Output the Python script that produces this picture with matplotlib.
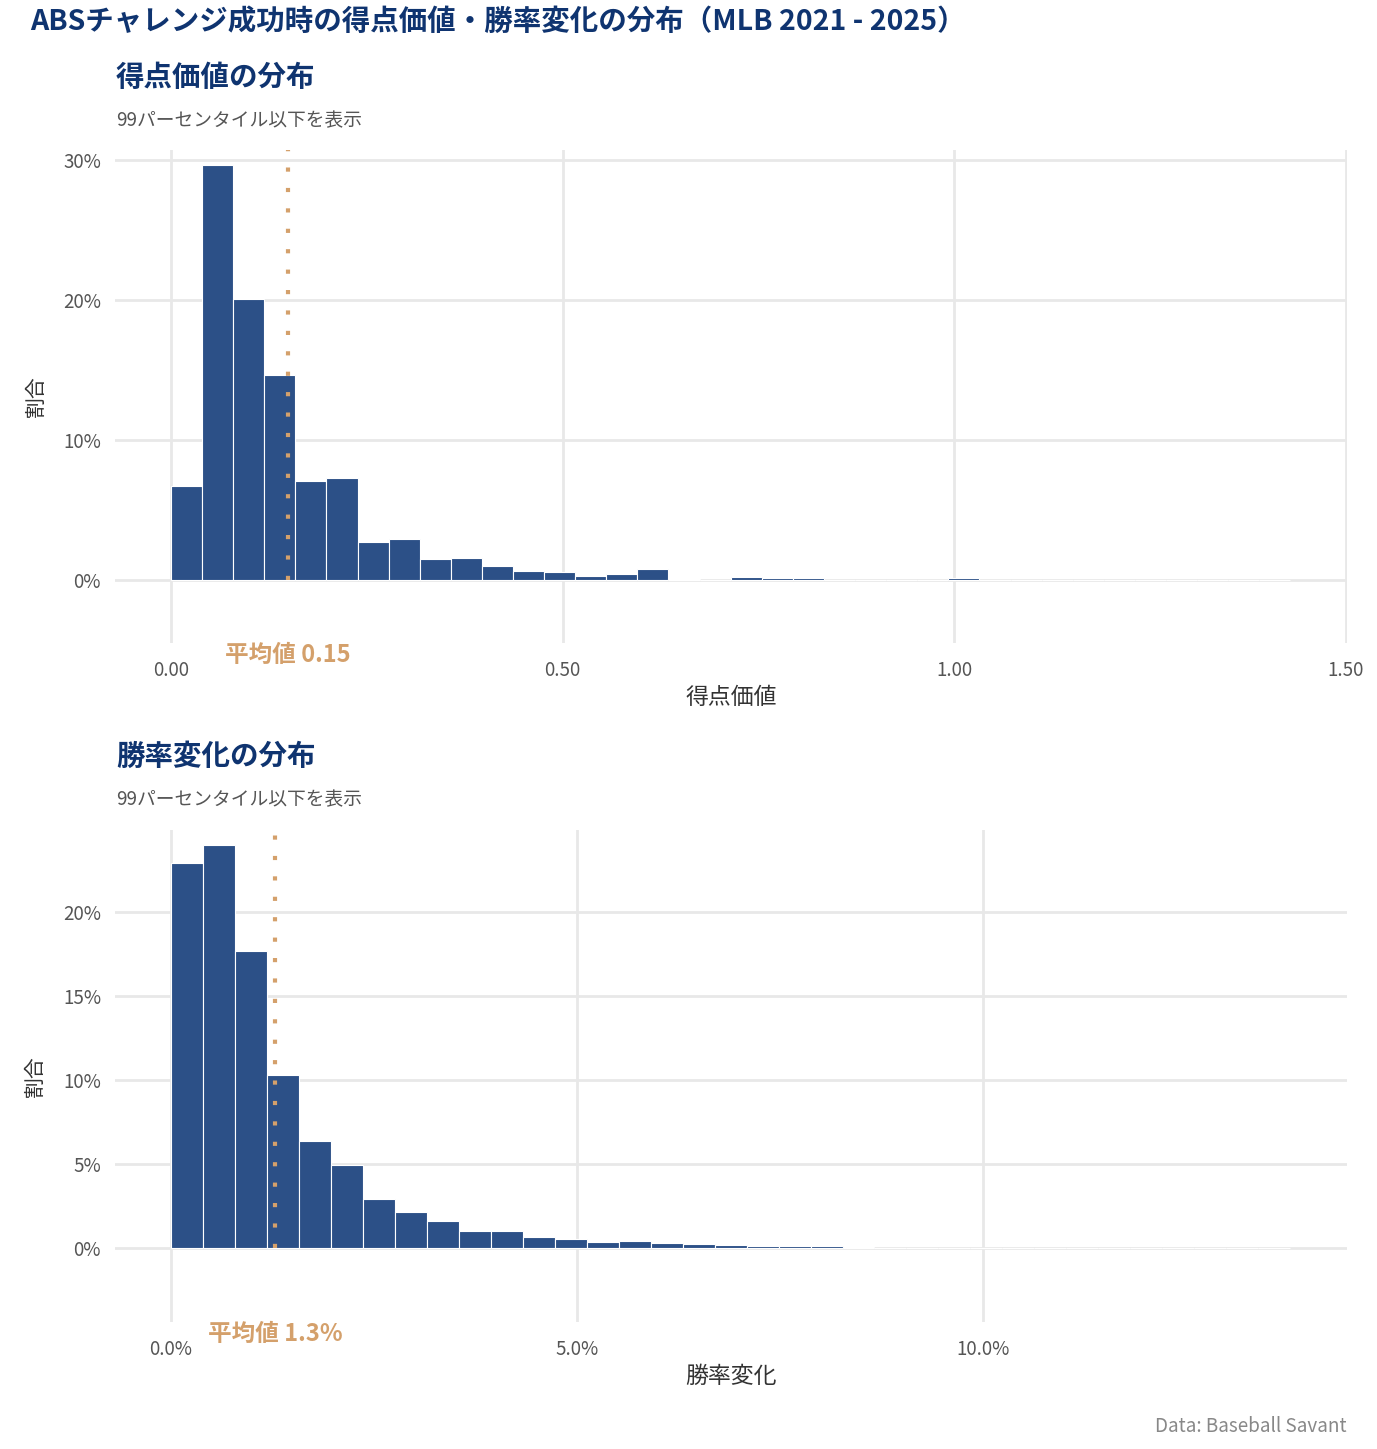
import matplotlib
matplotlib.use("Agg")
import matplotlib.pyplot as plt
import numpy as np
from matplotlib.ticker import FuncFormatter

plt.rcParams['font.family'] = ['Noto Sans CJK JP', 'DejaVu Sans']

# run value histogram (share of challenges, %)
score_bin_start = 0.0
score_bin_width = 0.0397
score_pct = [6.69, 29.64, 20.07, 14.64, 7.05, 7.26, 2.71, 2.93, 1.48, 1.57,
             0.98, 0.64, 0.60, 0.27, 0.42, 0.78, 0.07, 0.02, 0.24, 0.14,
             0.14, 0.03, 0.03, 0.03, 0.01, 0.17, 0.03, 0.03, 0.01, 0.02,
             0.02, 0.02, 0.02, 0.02, 0.02, 0.01]
score_mean = 0.149
score_xticks = [0.0, 0.5, 1.0, 1.5]
score_yticks = [0, 10, 20, 30]

# win prob change histogram (x in %, share %)
wp_bin_start = 0.0
wp_bin_width = 0.394
wp_pct = [22.92, 23.99, 17.68, 10.30, 6.37, 4.96, 2.92, 2.14, 1.63, 1.03,
          1.01, 0.65, 0.52, 0.37, 0.40, 0.28, 0.22, 0.16, 0.14, 0.14,
          0.10, 0.05, 0.03, 0.03, 0.03, 0.01, 0.01, 0.02, 0.015, 0.015,
          0.015, 0.015, 0.015, 0.015, 0.015]
wp_mean = 1.28
wp_xticks = [0.0, 5.0, 10.0]
wp_yticks = [0, 5, 10, 15, 20]

NAVY = '#0f3470'
BAR = '#2c5087'
GOLD = '#d4a06b'
GRID = '#e8e8e8'

W, H = 1377, 1449
fig = plt.figure(figsize=(W / 100, H / 100), dpi=100)


def fx(px):
    return px / W


def fy(px):
    return 1 - px / H


def draw_hist(ax, start, width, heights, mean, xlim, ylim, xticks, yticks,
              xfmt, yfmt, xlabel, mean_label):
    lefts = start + width * np.arange(len(heights))
    ax.bar(lefts, heights, width=width, align='edge', color=BAR,
           edgecolor='white', linewidth=0.8, zorder=2)
    ax.plot([mean, mean], [0, ylim[1]], color=GOLD, lw=3,
            linestyle=(0, (1, 3.9)), dash_capstyle='butt', zorder=3)
    ax.set_xlim(*xlim)
    ax.set_ylim(*ylim)
    ax.set_xticks(xticks)
    ax.set_yticks(yticks)
    ax.xaxis.set_major_formatter(FuncFormatter(xfmt))
    ax.yaxis.set_major_formatter(FuncFormatter(yfmt))
    ax.grid(True, color=GRID, lw=2.0, zorder=0)
    ax.set_axisbelow(True)
    for s in ax.spines.values():
        s.set_visible(False)
    ax.tick_params(length=0, labelsize=13.5, labelcolor='#555555', pad=12)
    ax.tick_params(axis='y', pad=10)
    ax.set_xlabel(xlabel, fontsize=16.5, color='#333333', labelpad=4)
    ax.set_ylabel('割合', fontsize=15, color='#333333', labelpad=12)
    ax.text(mean, ylim[0] - (ylim[1] - ylim[0]) * 0.025, mean_label,
            ha='center', va='center', fontsize=17, fontweight='bold',
            color=GOLD, clip_on=False)


# top panel
ax1 = fig.add_axes([fx(115), fy(643), fx(1347 - 115), (643 - 150) / H])
draw_hist(ax1, score_bin_start, score_bin_width, score_pct, score_mean,
          (-0.0715, 1.5015), (-4.5, 30.7), score_xticks, score_yticks,
          lambda v, p: f'{v:.2f}', lambda v, p: f'{v:.0f}%',
          '得点価値', '平均値 0.15')

# bottom panel
ax2 = fig.add_axes([fx(115), fy(1322), fx(1347 - 115), (1322 - 830) / H])
draw_hist(ax2, wp_bin_start, wp_bin_width, wp_pct, wp_mean,
          (-0.69, 14.49), (-4.4, 24.9), wp_xticks, wp_yticks,
          lambda v, p: f'{v:.1f}%', lambda v, p: f'{v:.0f}%',
          '勝率変化', '平均値 1.3%')

fig.text(fx(30), fy(22), 'ABSチャレンジ成功時の得点価値・勝率変化の分布（MLB 2021 - 2025）',
         fontsize=20.5, fontweight='bold', color=NAVY, ha='left', va='center')
fig.text(fx(116), fy(78), '得点価値の分布', fontsize=20.5, fontweight='bold',
         color=NAVY, ha='left', va='center')
fig.text(fx(116), fy(121), '99パーセンタイル以下を表示', fontsize=13.5,
         color='#555555', ha='left', va='center')
fig.text(fx(116), fy(757), '勝率変化の分布', fontsize=20.5, fontweight='bold',
         color=NAVY, ha='left', va='center')
fig.text(fx(116), fy(800), '99パーセンタイル以下を表示', fontsize=13.5,
         color='#555555', ha='left', va='center')
fig.text(fx(1347), fy(1426), 'Data: Baseball Savant', fontsize=13.6,
         color='#888888', ha='right', va='center')

fig.savefig('out.png', dpi=100, facecolor='white')
